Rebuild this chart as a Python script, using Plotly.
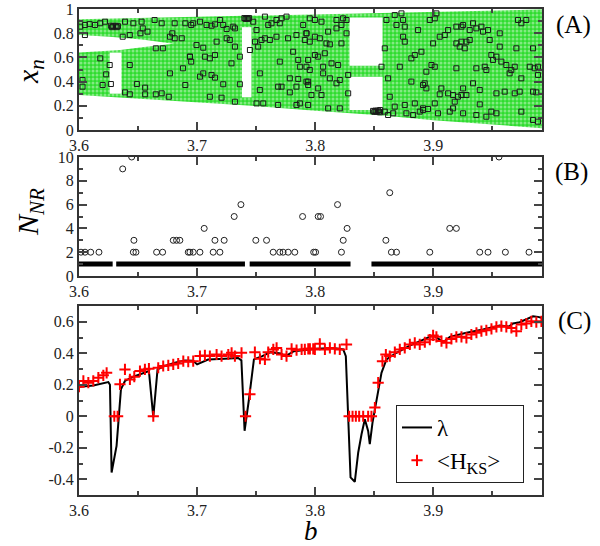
import plotly.graph_objects as go

SERIF = "Liberation Serif"

# ---------------- Panel A : attractor envelopes ----------------
env_b   = [3.600, 3.626, 3.635, 3.655, 3.680, 3.700, 3.738, 3.746, 3.800, 3.829, 3.857, 3.900, 3.992]
env_top = [0.915, 0.920, 0.922, 0.926, 0.931, 0.935, 0.943, 0.945, 0.955, 0.960, 0.966, 0.975, 0.995]
env_bot = [0.290, 0.275, 0.270, 0.258, 0.243, 0.232, 0.205, 0.200, 0.160, 0.140, 0.120, 0.080, 0.015]

# gap between the two chaotic bands (b < 3.68)
gap_b  = [3.600, 3.626, 3.635, 3.655, 3.680]
gap_lo = [0.640, 0.655, 0.662, 0.685, 0.712]
gap_hi = [0.785, 0.770, 0.765, 0.745, 0.712]

# periodic windows: empty x_n ranges
win_b0 = [3.626, 3.738, 3.829, 3.829]
win_b1 = [3.636, 3.746, 3.857, 3.857]
win_lo = [0.300, 0.270, 0.530, 0.165]
win_hi = [0.640, 0.850, 0.930, 0.440]

# black squares (sample iterates)
sq_b = [3.601,3.605,3.609,3.6135,3.618,3.622,3.639,3.646,3.653,3.664,3.670,3.681,3.690,3.695,3.654,3.605,3.637,3.643,3.652,3.658,3.677,3.681,3.687,3.679,3.665,3.671,3.694,3.618,3.626,3.643,3.688,3.677,3.603,3.623,3.620,3.627,3.603,3.649,3.656,3.639,3.643,3.656,3.665,3.670,3.676,3.690,3.695,
        3.6967,3.7024,3.708,3.7122,3.7151,3.7193,3.7221,3.725,3.7306,3.732,3.7475,3.7503,3.7574,3.7602,3.763,3.7672,3.7715,3.7757,3.770,3.7898,3.7926,3.725,3.7277,3.6995,3.7052,3.7165,3.732,3.7447,3.749,3.7545,3.7574,3.7616,3.7672,3.777,3.7841,3.7813,3.7912,3.6939,3.7066,3.7108,3.7151,3.7362,3.7291,3.7517,3.770,3.7856,3.787,3.794,3.7052,3.7024,3.7122,3.7151,3.7531,3.7785,3.7856,3.7926,3.7221,3.7362,3.7686,3.7715,3.7841,3.794,3.7531,3.7785,3.7108,3.7207,3.732,3.7503,3.756,3.7686,3.7841,3.787,
        3.7954,3.7997,3.8053,3.818,3.8236,3.8265,3.8222,3.818,3.7926,3.7997,3.8039,3.8109,3.8265,3.8095,3.8124,3.8222,3.7954,3.8025,3.7997,3.8081,3.8138,3.8194,3.7926,3.8067,3.8067,3.7954,3.8279,3.8124,3.818,3.8208,3.794,3.8025,3.7968,3.8053,3.8279,3.8109,3.8208,3.794,3.8603,3.8673,3.873,3.8688,3.8744,3.8758,3.8871,3.8744,3.8758,3.8589,3.8843,3.8814,3.8716,3.8561,3.8617,3.8814,3.8913,3.8631,3.8673,3.866,3.8589,3.8617,3.8772,3.8829,3.8758,3.8843,3.8885,3.8913,3.8518,3.8547,
        3.897,3.9012,3.9026,3.9125,3.9195,3.9238,3.9252,3.9308,3.9336,3.9364,3.9407,3.9421,3.9463,3.9562,3.9717,3.9745,3.9787,3.9054,3.9097,3.8998,3.9195,3.9238,3.928,3.9308,3.9477,3.9223,3.9266,3.9562,3.9703,3.9844,3.8899,3.9491,3.9534,3.9505,3.9576,3.9618,3.9689,3.9816,3.9858,3.8984,3.9012,3.8941,3.9195,3.9364,3.9435,3.9449,3.966,3.9646,3.9745,3.9886,3.9886,3.8927,3.9336,3.8941,3.9068,3.9252,3.9125,3.9054,3.9167,3.9209,3.9238,3.928,3.9393,3.9534,3.9604,3.9689,3.9731,3.9844,3.9872,3.9012,3.9181,3.9393,3.8913,3.8955,3.9139,3.9167,3.9252,3.9364,3.9449,3.9491,3.9534,3.9745,3.9844,3.9886,3.904,
        3.627,3.629,3.631,3.633,3.628,3.632,3.740,3.742,3.744,3.741,3.743,3.849,3.851,3.853,3.855,3.850,3.854]
sq_x = [0.854,0.868,0.875,0.868,0.882,0.895,0.895,0.882,0.895,0.909,0.882,0.882,0.882,0.868,0.840,0.785,0.771,0.785,0.799,0.813,0.771,0.758,0.758,0.799,0.675,0.675,0.606,0.592,0.537,0.537,0.510,0.468,0.413,0.460,0.372,0.380,0.358,0.380,0.350,0.311,0.295,0.295,0.295,0.303,0.275,0.372,0.565,
        0.882,0.895,0.868,0.862,0.873,0.909,0.868,0.835,0.854,0.840,0.895,0.826,0.937,0.868,0.882,0.909,0.923,0.937,0.882,0.868,0.799,0.758,0.744,0.702,0.680,0.730,0.689,0.661,0.730,0.744,0.758,0.744,0.771,0.758,0.785,0.647,0.744,0.606,0.606,0.592,0.620,0.606,0.551,0.689,0.565,0.579,0.523,0.579,0.468,0.441,0.455,0.433,0.468,0.427,0.422,0.400,0.378,0.378,0.358,0.358,0.358,0.372,0.331,0.311,0.275,0.267,0.234,0.220,0.220,0.207,0.207,0.220,
        0.923,0.909,0.895,0.909,0.923,0.909,0.868,0.840,0.799,0.771,0.758,0.813,0.799,0.716,0.708,0.716,0.730,0.606,0.620,0.634,0.551,0.537,0.523,0.523,0.468,0.496,0.455,0.427,0.386,0.413,0.400,0.344,0.289,0.289,0.303,0.179,0.179,0.207,0.909,0.950,0.964,0.868,0.909,0.854,0.826,0.771,0.730,0.675,0.620,0.592,0.523,0.523,0.427,0.400,0.372,0.275,0.193,0.138,0.152,0.124,0.138,0.124,0.207,0.220,0.152,0.179,0.152,0.146,
        0.909,0.923,0.964,0.826,0.854,0.854,0.868,0.826,0.882,0.840,0.854,0.813,0.826,0.799,0.909,0.882,0.909,0.771,0.785,0.716,0.716,0.730,0.730,0.744,0.744,0.689,0.675,0.689,0.675,0.675,0.647,0.620,0.606,0.579,0.565,0.537,0.523,0.523,0.510,0.537,0.523,0.482,0.510,0.510,0.523,0.496,0.496,0.468,0.427,0.523,0.455,0.386,0.386,0.344,0.344,0.344,0.303,0.295,0.289,0.275,0.289,0.289,0.331,0.303,0.317,0.303,0.317,0.317,0.311,0.220,0.234,0.212,0.165,0.174,0.152,0.179,0.138,0.124,0.110,0.152,0.138,0.152,0.083,0.069,0.138,
        0.862,0.858,0.862,0.858,0.850,0.850,0.925,0.925,0.925,0.918,0.918,0.158,0.160,0.160,0.165,0.150,0.152]

# ---------------- Panel B : N_NR ----------------
nr1_b0 = [3.600, 3.6315, 3.7445, 3.8476]
nr1_b1 = [3.6285, 3.7405, 3.8299, 3.992]
nr_b = [3.6017,3.6051,3.6099,3.6169,3.6460,3.6482,3.6657,3.6708,3.6925,3.6939,3.6967,3.7024,3.7136,3.7193,3.7644,3.7700,3.7728,3.7771,3.7827,
        3.6465,3.6798,3.6826,3.6854,3.7151,3.7229,3.7497,3.7588,3.7060,3.7314,3.7371,3.6370,3.6446,
        3.7893,3.8025,3.8045,3.8189,3.8270,3.8237,3.7987,3.8003,3.8222,3.8631,3.8598,3.8645,3.8688,3.8970,3.9139,3.9195,3.9393,3.9463,3.9610,3.9810,3.9556]
nr_n = [2,2,2,2,2,2,2,2,2,2,2,2,2,2,2,2,2,2,2,
        3,3,3,3,3,3,3,3,4,5,6,9,10,
        5,5,5,6,4,3,2,2,2,7,3,2,2,2,4,4,2,2,2,2,10]

# ---------------- Panel C : Lyapunov exponent and <H_KS> ----------------
lam_b = [3.6008,3.6121,3.6248,3.6262,3.6276,3.6318,3.6355,3.6389,3.6460,3.6530,3.6592,3.6629,3.6665,3.6727,3.6812,3.6896,3.6967,3.7000,3.7093,3.7234,3.7347,3.7375,3.7402,3.7439,3.7481,3.7552,3.7622,3.7707,3.7749,3.7820,3.7933,
         3.8011,3.8152,3.8237,3.8259,3.8279,3.8299,3.8335,3.8364,3.8392,3.8420,3.8448,3.8462,3.8485,3.8519,3.8561,3.8603,3.8688,3.8801,3.8913,3.8998,3.9054,3.9083,3.9140,3.9280,3.9421,3.9562,3.9640,3.9675,3.9731,3.9788,3.9844,3.9886,3.9915]
lam_v = [0.187,0.195,0.217,0.200,-0.357,-0.188,0.171,0.224,0.251,0.272,0.287,-0.005,0.297,0.320,0.340,0.354,0.352,0.329,0.360,0.365,0.370,0.355,-0.092,0.108,0.361,0.382,0.407,0.398,0.382,0.413,0.424,
         0.428,0.434,0.424,0.382,0.002,-0.388,-0.416,-0.230,-0.114,-0.019,-0.093,-0.177,-0.040,0.108,0.276,0.361,0.403,0.449,0.487,0.513,0.487,0.470,0.504,0.530,0.551,0.576,0.570,0.589,0.597,0.618,0.635,0.631,0.625]

hks_b = [3.6000,3.6037,3.6079,3.6121,3.6164,3.6206,3.6234,3.6299,3.6327,3.6347,3.6389,3.6431,3.6468,3.6516,3.6558,3.6592,3.6629,3.6671,3.6713,3.6756,3.6798,3.6840,3.6883,3.6925,3.6967,3.7024,3.7066,3.7108,3.7165,3.7207,3.7264,3.7292,3.7320,3.7376,3.7410,3.7447,3.7489,3.7532,3.7574,3.7602,3.7645,3.7673,3.7715,3.7757,3.7800,3.7842,3.7885,3.7941,3.7983,
         3.7912,3.7955,3.7997,3.8039,3.8082,3.8124,3.8166,3.8208,3.8265,3.8287,3.8316,3.8344,3.8372,3.8406,3.8448,3.8476,3.8505,3.8533,3.8569,3.8598,3.8631,3.8674,3.8716,3.8758,3.8801,3.8843,3.8885,3.8928,3.8970,3.8998,3.9026,3.9069,3.9111,3.9153,3.9195,3.9238,3.9280,3.9322,3.9365,3.9407,3.9449,3.9492,3.9534,3.9576,3.9618,3.9661,3.9703,3.9745,3.9788,3.9830,3.9872,3.9915]
hks_v = [0.188,0.224,0.213,0.224,0.245,0.260,0.276,0.000,0.000,0.203,0.297,0.234,0.251,0.287,0.297,0.302,0.000,0.308,0.319,0.323,0.329,0.335,0.350,0.346,0.350,0.382,0.386,0.382,0.392,0.382,0.392,0.403,0.382,0.403,0.000,0.139,0.407,0.365,0.361,0.407,0.424,0.434,0.392,0.382,0.428,0.420,0.424,0.428,0.428,
         0.424,0.428,0.424,0.460,0.424,0.434,0.428,0.424,0.456,0.000,0.000,0.000,0.000,0.000,0.000,0.000,0.055,0.213,0.350,0.392,0.382,0.407,0.424,0.434,0.456,0.466,0.456,0.470,0.487,0.513,0.504,0.477,0.466,0.491,0.504,0.504,0.498,0.519,0.530,0.540,0.546,0.555,0.568,0.572,0.568,0.561,0.540,0.582,0.589,0.603,0.597,0.603]

x_ticks = [3.6, 3.7, 3.8, 3.9]
x_ticktext = ["3.6", "3.7", "3.8", "3.9"]
a_ticks = [0, 0.2, 0.4, 0.6, 0.8, 1.0]
a_ticktext = ["0", "0.2", "0.4", "0.6", "0.8", "1"]
b_ticks = [0, 2, 4, 6, 8, 10]
b_ticktext = ["0", "2", "4", "6", "8", "10"]
c_ticks = [-0.4, -0.2, 0, 0.2, 0.4, 0.6]
c_ticktext = ["-0.4", "-0.2", "0", "0.2", "0.4", "0.6"]

GREEN = "#2fdc2f"
fig = go.Figure()

# green chaotic region
fig.add_trace(go.Scatter(x=env_b, y=env_bot, mode="lines", line=dict(width=0, color=GREEN),
                         showlegend=False, hoverinfo="skip", xaxis="x", yaxis="y"))
fig.add_trace(go.Scatter(x=env_b, y=env_top, mode="lines", line=dict(width=0, color=GREEN),
                         fill="tonexty", fillcolor=GREEN,
                         fillpattern=dict(shape=".", bgcolor=GREEN, fgcolor="#d8f7d8", size=4, solidity=0.45),
                         showlegend=False, hoverinfo="skip", xaxis="x", yaxis="y"))
# gap between bands
fig.add_trace(go.Scatter(x=gap_b + gap_b[::-1], y=gap_lo + gap_hi[::-1], mode="lines",
                         line=dict(width=0, color="white"), fill="toself", fillcolor="white",
                         showlegend=False, hoverinfo="skip", xaxis="x", yaxis="y"))
# periodic windows
for b0, b1, lo, hi in zip(win_b0, win_b1, win_lo, win_hi):
    fig.add_trace(go.Scatter(x=[b0, b1, b1, b0, b0], y=[lo, lo, hi, hi, lo], mode="lines",
                             line=dict(width=0, color="white"), fill="toself", fillcolor="white",
                             showlegend=False, hoverinfo="skip", xaxis="x", yaxis="y"))
fig.add_trace(go.Scatter(x=sq_b, y=sq_x, mode="markers",
                         marker=dict(symbol="square-open", size=5, color="#1a1a1a", line=dict(width=1)),
                         showlegend=False, xaxis="x", yaxis="y"))

# panel B
seg_x, seg_y = [], []
for b0, b1 in zip(nr1_b0, nr1_b1):
    seg_x += [b0, b1, None]
    seg_y += [1, 1, None]
fig.add_trace(go.Scatter(x=seg_x, y=seg_y, mode="lines", line=dict(width=5, color="black"),
                         showlegend=False, xaxis="x2", yaxis="y2"))
fig.add_trace(go.Scatter(x=nr_b, y=nr_n, mode="markers",
                         marker=dict(symbol="circle-open", size=6, color="#222", line=dict(width=1)),
                         showlegend=False, xaxis="x2", yaxis="y2"))

# panel C
fig.add_trace(go.Scatter(x=lam_b, y=lam_v, mode="lines", line=dict(width=2, color="black"),
                         name="λ", xaxis="x3", yaxis="y3"))
fig.add_trace(go.Scatter(x=hks_b, y=hks_v, mode="markers",
                         marker=dict(symbol="cross-thin", size=8, color="red", line=dict(width=2, color="red")),
                         name="&lt;H<sub>KS</sub>&gt;&nbsp;&nbsp;&nbsp;", xaxis="x3", yaxis="y3"))

W, H = 600, 546
xdom = [79 / W, 542 / W]
def ydom(top, bot):
    return [1 - bot / H, 1 - top / H]

tickfont = dict(family=SERIF, size=16, color="#222")
common_x = dict(range=[3.6, 3.992], tickvals=x_ticks, ticktext=x_ticktext, ticks="inside", ticklen=8,
                tickwidth=1.5, tickcolor="#444", minor=dict(dtick=0.05, tick0=3.6, ticks="inside", ticklen=4, tickcolor="#444"),
                showline=True, linewidth=2, linecolor="#333", mirror="allticks", showgrid=False,
                zeroline=False, tickfont=tickfont, domain=xdom, automargin=False, ticklabeloverflow="allow")
common_y = dict(ticks="inside", ticklen=8, tickwidth=1.5, tickcolor="#444", showline=True, linewidth=2,
                linecolor="#333", mirror="allticks", showgrid=False, zeroline=False, tickfont=tickfont,
                automargin=False, ticklabeloverflow="allow")

fig.update_layout(
    width=W, height=H, margin=dict(l=0, r=0, t=0, b=0, autoexpand=False),
    plot_bgcolor="white", paper_bgcolor="white",
    xaxis=dict(common_x, anchor="y"),
    yaxis=dict(common_y, range=[0, 1], tickvals=a_ticks, ticktext=a_ticktext,
               minor=dict(dtick=0.1, tick0=0, ticks="inside", ticklen=4, tickcolor="#444"),
               domain=ydom(9, 130), anchor="x"),
    xaxis2=dict(common_x, anchor="y2"),
    yaxis2=dict(common_y, range=[0, 10], tickvals=b_ticks, ticktext=b_ticktext,
                minor=dict(dtick=1, tick0=0, ticks="inside", ticklen=4, tickcolor="#444"),
                domain=ydom(157, 276), anchor="x2"),
    xaxis3=dict(common_x, anchor="y3"),
    yaxis3=dict(common_y, range=[-0.5, 0.7], tickvals=c_ticks, ticktext=c_ticktext,
                minor=dict(dtick=0.1, tick0=0, ticks="inside", ticklen=4, tickcolor="#444"),
                domain=ydom(306, 495), anchor="x3"),
    legend=dict(x=396 / W, y=1 - 405 / H, xanchor="left", yanchor="top", bordercolor="#222", borderwidth=1,
                bgcolor="white", font=dict(family=SERIF, size=23, color="black"), tracegroupgap=0,
                traceorder="normal", itemwidth=30),
    showlegend=True,
)

ann = [
    dict(text="<i>x</i><sub><i>n</i></sub>", x=30 / W, y=1 - 72 / H, textangle=-90, font=dict(size=30)),
    dict(text="<i>N</i><sub><i>NR</i></sub>", x=30 / W, y=1 - 212 / H, textangle=-90, font=dict(size=30)),
    dict(text="<i>b</i>", x=311 / W, y=1 - 531 / H, font=dict(size=27)),
    dict(text="(A)", x=573 / W, y=1 - 25 / H, font=dict(size=25)),
    dict(text="(B)", x=571 / W, y=1 - 172 / H, font=dict(size=25)),
    dict(text="(C)", x=574 / W, y=1 - 321 / H, font=dict(size=25)),
]
for a in ann:
    a["font"].update(family=SERIF, color="black")
    fig.add_annotation(xref="paper", yref="paper", showarrow=False, xanchor="center", yanchor="middle", **a)

fig.write_html("out.html", config={"displayModeBar": False},
               post_script="document.body.style.margin='0';document.body.style.overflow='hidden';")
